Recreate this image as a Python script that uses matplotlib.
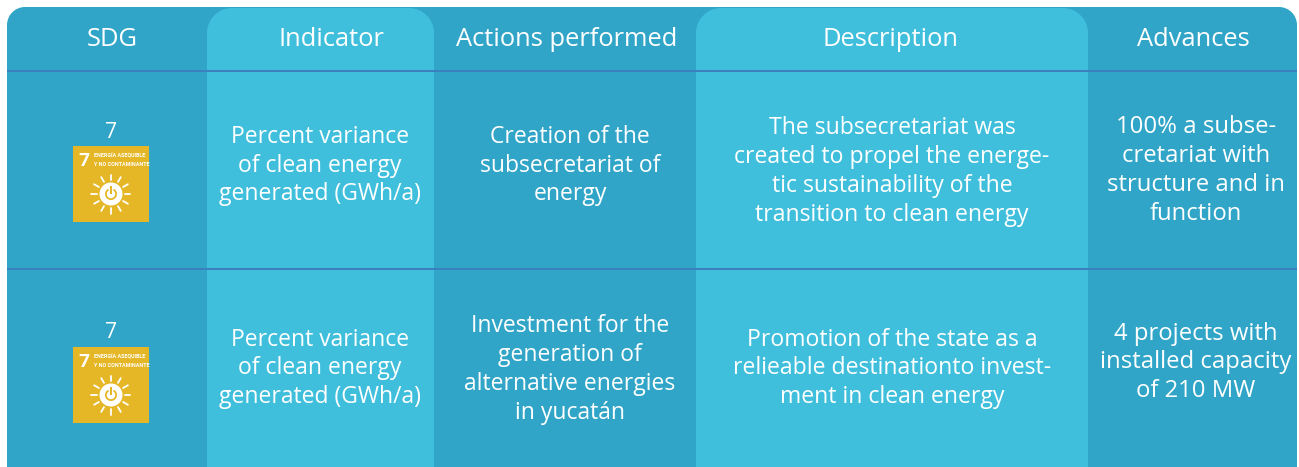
import numpy as np
import matplotlib.pyplot as plt
from matplotlib.patches import PathPatch, Rectangle, Circle, Wedge
from matplotlib.path import Path

plt.rcParams['font.family'] = ['Open Sans', 'DejaVu Sans']

# table text
headers = ['SDG', 'Indicator', 'Actions performed', 'Description', 'Advances']
sdg = ['7', '7']
indicator = ['Percent variance\nof clean energy\ngenerated (GWh/a)',
             'Percent variance\nof clean energy\ngenerated (GWh/a)']
actions = ['Creation of the\nsubsecretariat of\nenergy',
           'Investment for the\ngeneration of\nalternative energies\nin yucatán']
description = ['The subsecretariat was\ncreated to propel the energe-\ntic sustainability of the\ntransition to clean energy',
               'Promotion of the state as a\nrelieable destinationto invest-\nment in clean energy']
advances = ['100% a subse-\ncretariat with\nstructure and in\nfunction',
            '4 projects with\ninstalled capacity\nof 210 MW']

# layout, in pixels of the picture
W, H = 1299, 467
header_x = [112, 331, 566.5, 891, 1193]
col_x = [320, 570, 892, 1196]
col_size = [16.5, 16.5, 16.6, 17.2]
# vertical centre of each text block, one pair per column
col_y = [(165.5, 368.5), (165.5, 369.5), (171.5, 368.5), (170.5, 362.5)]
sdg_x = 111
sdg_y = [132, 333]
icon_top = [146, 347]
BAND = '#30a5c8'
LIGHT = '#40bfdc'
RULE = '#3c7fc0'
GOLD = '#e5b726'


def round_top(x0, x1, y0, y1, r):
    # rectangle with the two top corners rounded (y axis points down)
    k = r * 0.45
    verts = [(x0, y1), (x0, y0 + r), (x0, y0 + k), (x0 + k, y0), (x0 + r, y0),
             (x1 - r, y0), (x1 - k, y0), (x1, y0 + k), (x1, y0 + r), (x1, y1), (x0, y1)]
    codes = [Path.MOVETO, Path.LINETO, Path.CURVE4, Path.CURVE4, Path.CURVE4,
             Path.LINETO, Path.CURVE4, Path.CURVE4, Path.CURVE4, Path.LINETO, Path.CLOSEPOLY]
    return Path(verts, codes)


def draw_icon(ax, cx, top):
    # SDG 7 tile, 76 px square
    left = cx - 38
    ax.add_patch(Rectangle((left, top), 76, 76, fc=GOLD, ec='none', zorder=3))
    ax.text(left + 11, top + 15, '7', color='white', fontsize=14, fontweight='bold',
            family='Roboto', ha='center', va='center', zorder=4)
    ax.text(left + 21, top + 9.5, 'ENERGÍA ASEQUIBLE', color='white', fontsize=3.9, fontweight='bold',
            family='Roboto', ha='left', va='center', zorder=4)
    ax.text(left + 21, top + 18.5, 'Y NO CONTAMINANTE', color='white', fontsize=3.9, fontweight='bold',
            family='Roboto', ha='left', va='center', zorder=4)
    sx, sy = cx, top + 48
    for a in np.arange(0, 360, 30):
        c, s = np.cos(np.radians(a)), np.sin(np.radians(a))
        ax.plot([sx + 14 * c, sx + 19.5 * c], [sy + 14 * s, sy + 19.5 * s],
                color='white', lw=1.3, solid_capstyle='round', zorder=4)
    ax.add_patch(Circle((sx, sy), 11.5, fc='white', ec='none', zorder=4))
    ax.add_patch(Wedge((sx, sy), 6, -60, 240, width=1.8, fc=GOLD, ec='none', zorder=5))
    ax.plot([sx, sx], [sy - 7, sy - 1], color=GOLD, lw=1.5, zorder=5)


fig = plt.figure(figsize=(W / 100, H / 100), dpi=100)
ax = fig.add_axes([0, 0, 1, 1])
ax.set_xlim(0, W)
ax.set_ylim(H, 0)
ax.axis('off')

# background band and the two lighter columns
ax.add_patch(PathPatch(round_top(7, 1297, 7, H, 18), fc=BAND, ec='none', zorder=1))
for x0, x1 in [(207, 434), (696, 1088)]:
    ax.add_patch(PathPatch(round_top(x0, x1, 8, H, 25), fc=LIGHT, ec='none', zorder=2))

for y in [71, 269]:
    ax.plot([7, 1297], [y, y], color=RULE, lw=1.4, solid_capstyle='butt', zorder=3)

for x, label in zip(header_x, headers):
    ax.text(x, 39, label, color='white', fontsize=18.4, ha='center', va='center', zorder=4)

columns = [indicator, actions, description, advances]
for i in range(2):
    ax.text(sdg_x, sdg_y[i], sdg[i], color='white', fontsize=15, ha='center', va='center', zorder=4)
    draw_icon(ax, sdg_x, icon_top[i])
    for x, y, size, col in zip(col_x, col_y, col_size, columns):
        ax.text(x, y[i], col[i], color='white', fontsize=size, ha='center', va='center',
                linespacing=1.27, zorder=4)

fig.savefig('out.png', dpi=100, facecolor='white')
